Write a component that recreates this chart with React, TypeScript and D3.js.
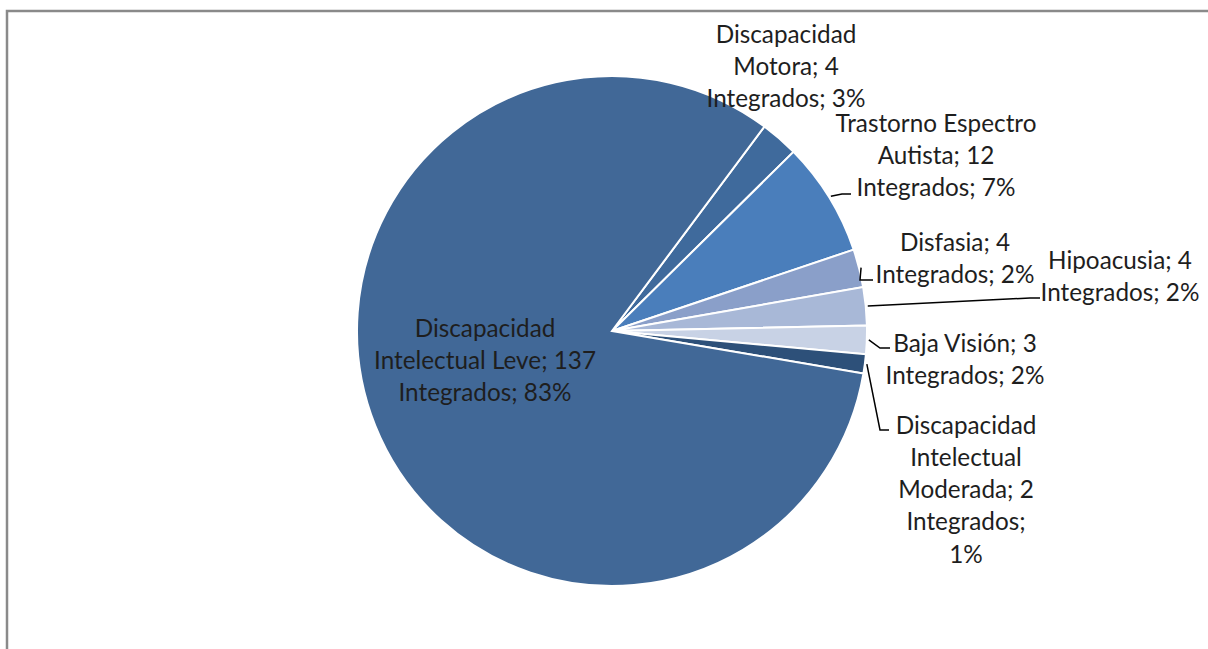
import React from "react";
import * as d3 from "d3";

const categories = [
  "Discapacidad Motora",
  "Trastorno Espectro Autista",
  "Disfasia",
  "Hipoacusia",
  "Baja Visión",
  "Discapacidad Intelectual Moderada",
  "Discapacidad Intelectual Leve",
];
const values = [4, 12, 4, 4, 3, 2, 137];
const percentLabels = ["3%", "7%", "2%", "2%", "2%", "1%", "83%"];
const colors = ["#3f6a9c", "#4a7ebb", "#8a9fc9", "#a8b8d7", "#c8d2e5", "#2d5079", "#416897"];

// label text lines and layout (line centres), leader elbow/end
const labelLines = [
  ["Discapacidad", "Motora; 4", "Integrados; 3%"],
  ["Trastorno Espectro", "Autista; 12", "Integrados; 7%"],
  ["Disfasia; 4", "Integrados; 2%"],
  ["Hipoacusia; 4", "Integrados; 2%"],
  ["Baja Visión; 3", "Integrados; 2%"],
  ["Discapacidad", "Intelectual", "Moderada; 2", "Integrados;", "1%"],
  ["Discapacidad", "Intelectual Leve; 137", "Integrados; 83%"],
];
const labelPos = [
  { x: 786, y: 33 },
  { x: 936, y: 122 },
  { x: 955, y: 241 },
  { x: 1120, y: 259 },
  { x: 965, y: 342 },
  { x: 966, y: 424 },
  { x: 485, y: 327 },
];
const leaders: (null | { elbow: [number, number]; end: [number, number] })[] = [
  null,
  { elbow: [842, 194], end: [851, 194] },
  { elbow: [860, 280], end: [873, 280] },
  { elbow: [1030, 298], end: [1040, 298] },
  { elbow: [880, 348], end: [890, 348] },
  { elbow: [880, 430], end: [889, 430] },
  null,
];

const W = 1208;
const H = 649;
const cx = 612;
const cy = 331;
const R = 255;
const LINE_H = 32.3;

export default function App() {
  const start = (36.7 * Math.PI) / 180;
  const pie = d3
    .pie<number>()
    .sort(null)
    .startAngle(start)
    .endAngle(start + 2 * Math.PI)(values);
  const arc = d3.arc<d3.PieArcDatum<number>>().innerRadius(0).outerRadius(R);

  return (
    <svg
      width={W}
      height={H}
      style={{ position: "absolute", left: 0, top: 0, background: "#fff" }}
      fontFamily="Lato, 'Open Sans', sans-serif"
    >
      <path d={`M7,${H} V11 H${W}`} fill="none" stroke="#8a8a8a" strokeWidth={2.5} />
      <g transform={`translate(${cx},${cy})`}>
        {pie.map((d, i) => (
          <path key={i} d={arc(d) || ""} fill={colors[i]} stroke="#fff" strokeWidth={2}>
            <title>{`${categories[i]}; ${values[i]} Integrados; ${percentLabels[i]}`}</title>
          </path>
        ))}
      </g>
      {pie.map((d, i) => {
        const ld = leaders[i];
        if (!ld) return null;
        const mid = (d.startAngle + d.endAngle) / 2;
        const sx = cx + (R + 2) * Math.sin(mid);
        const sy = cy - (R + 2) * Math.cos(mid);
        return (
          <path
            key={"l" + i}
            d={`M${sx},${sy} L${ld.elbow[0]},${ld.elbow[1]} L${ld.end[0]},${ld.end[1]}`}
            fill="none"
            stroke="#000"
            strokeWidth={1.5}
          />
        );
      })}
      {labelLines.map((lines, i) => (
        <text key={"t" + i} textAnchor="middle" fontSize={24.3} fill="#1e1e1e">
          {lines.map((ln, j) => (
            <tspan key={j} x={labelPos[i].x} y={labelPos[i].y + j * LINE_H} dominantBaseline="central">
              {ln}
            </tspan>
          ))}
        </text>
      ))}
    </svg>
  );
}
